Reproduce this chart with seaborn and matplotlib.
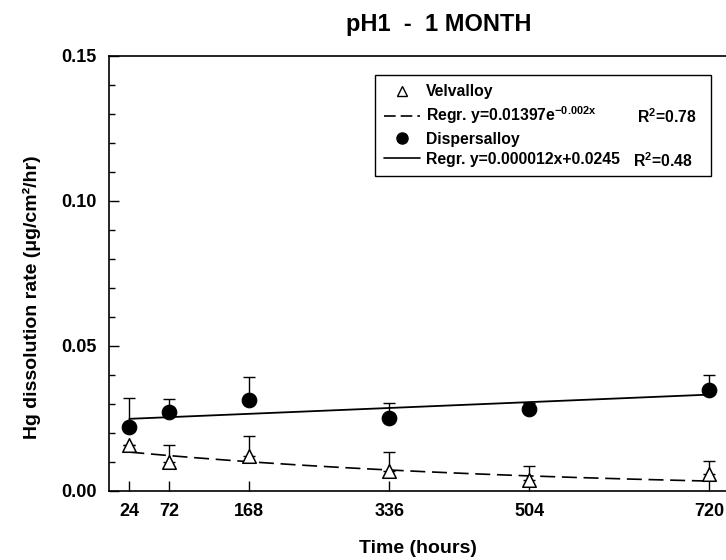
import numpy as np
import pandas as pd
import matplotlib
matplotlib.use('Agg')
import matplotlib.pyplot as plt
import seaborn as sns
from matplotlib.lines import Line2D
from matplotlib.ticker import MultipleLocator

# 数据
hours = [24, 72, 168, 336, 504, 720]
velvalloy = [0.0157, 0.0098, 0.0121, 0.0067, 0.0038, 0.0056]
velvalloy_err = [0.0, 0.0059, 0.0068, 0.0065, 0.0046, 0.0045]
dispersalloy = [0.0220, 0.0273, 0.0313, 0.0252, 0.0282, 0.0349]
dispersalloy_err = [0.0099, 0.0042, 0.0080, 0.0051, 0.0022, 0.0050]

# 回归系数（来自图例）
vel_a, vel_b = 0.01397, -0.002
disp_k, disp_c = 0.000012, 0.0245

sns.set_style('ticks')
plt.rcParams['font.family'] = ['Liberation Sans', 'DejaVu Sans']
plt.rcParams['font.weight'] = 'bold'
plt.rcParams['mathtext.fontset'] = 'custom'
plt.rcParams['mathtext.rm'] = 'Liberation Sans:bold'
plt.rcParams['mathtext.bf'] = 'Liberation Sans:bold'
plt.rcParams['mathtext.default'] = 'bf'
for k in ['text.color', 'axes.labelcolor', 'xtick.color', 'ytick.color', 'axes.edgecolor']:
    plt.rcParams[k] = 'black'

fig = plt.figure(figsize=(7.26, 5.6), dpi=100)
ax = fig.add_axes([0.1506, 0.1238, 0.8547, 0.7763])

df_v = pd.DataFrame({'x': hours, 'y': velvalloy})
df_d = pd.DataFrame({'x': hours, 'y': dispersalloy})

# 回归曲线
xr = np.linspace(hours[0], hours[-1], 200)
fit = pd.DataFrame({'x': xr,
                    'vel': vel_a * np.exp(vel_b * xr),
                    'disp': disp_k * xr + disp_c})
sns.lineplot(data=fit, x='x', y='vel', ax=ax, color='black', lw=1.2,
             dashes=False, linestyle=(0, (9, 4)), zorder=2)
sns.lineplot(data=fit, x='x', y='disp', ax=ax, color='black', lw=1.3, zorder=2)

# 误差线（仅上方）
ax.errorbar(hours, velvalloy, yerr=[np.zeros(6), velvalloy_err], fmt='none',
            ecolor='black', elinewidth=1, capsize=4, capthick=1, zorder=1)
ax.errorbar(hours, dispersalloy, yerr=[np.zeros(6), dispersalloy_err], fmt='none',
            ecolor='black', elinewidth=1, capsize=4, capthick=1, zorder=1)

sns.scatterplot(data=df_v, x='x', y='y', ax=ax, marker='^', s=95,
                facecolor='white', edgecolor='black', linewidth=1.1, zorder=3)
sns.scatterplot(data=df_d, x='x', y='y', ax=ax, marker='o', s=110,
                color='black', edgecolor='black', zorder=3)

ax.set_xlim(0, 745)
ax.set_ylim(0, 0.15)
ax.set_xticks(hours)
ax.set_yticks([0.00, 0.05, 0.10, 0.15])
ax.set_yticklabels(['0.00', '0.05', '0.10', '0.15'])
ax.yaxis.set_minor_locator(MultipleLocator(0.01))
ax.tick_params(axis='both', which='major', direction='in', length=7, width=1,
               labelsize=13, pad=9, colors='black')
ax.tick_params(axis='y', which='minor', direction='in', length=4, width=1)
for lab in ax.get_xticklabels() + ax.get_yticklabels():
    lab.set_fontweight('bold')
for sp in ax.spines.values():
    sp.set_linewidth(1.2)
    sp.set_visible(True)
    sp.set_color('black')

ax.set_xlabel('Time (hours)', fontsize=14, fontweight='bold')
ax.set_ylabel('Hg dissolution rate (μg/cm²/hr)', fontsize=14, fontweight='bold')
ax.xaxis.set_label_coords(0.497, -0.113)
ax.yaxis.set_label_coords(-0.110, 0.446)

fig.text(439 / 726, 1 - 31 / 560, 'pH1  -  1 MONTH', ha='center', va='baseline',
         fontsize=17, fontweight='bold')

# 图例
handles = [
    Line2D([], [], marker='^', ls='none', markerfacecolor='white',
           markeredgecolor='black', markersize=7),
    Line2D([], [], color='black', lw=1.2, ls=(0, (7, 3))),
    Line2D([], [], marker='o', ls='none', color='black', markersize=8),
    Line2D([], [], color='black', lw=1.2),
]
labels = ['Velvalloy', r'Regr. y=0.01397e$^{-0.002x}$', 'Dispersalloy',
          'Regr. y=0.000012x+0.0245']
leg = ax.legend(handles, labels, loc='upper left',
                bbox_to_anchor=(0.428, 0.5, 0.541, 0.456), mode='expand',
                borderaxespad=0, fancybox=False, framealpha=1, edgecolor='black',
                fontsize=11.3, handlelength=2.3, handletextpad=0.35,
                labelspacing=0.33, borderpad=0.6)
leg.get_frame().set_linewidth(1)
for t in leg.get_texts():
    t.set_fontweight('bold')
    t.set_color('black')

fig.text(637 / 726, 1 - 117 / 560, 'R$^2$=0.78', ha='left', va='center',
         fontsize=11.3, fontweight='bold')
fig.text(633 / 726, 1 - 161 / 560, 'R$^2$=0.48', ha='left', va='center',
         fontsize=11.3, fontweight='bold')

fig.savefig('out.png', dpi=100)
